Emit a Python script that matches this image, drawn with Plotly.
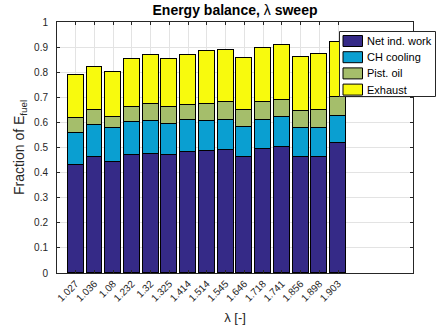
import plotly.graph_objects as go

lambda_labels = ["1.027", "1.036", "1.08", "1.232", "1.32", "1.325", "1.414", "1.514",
                 "1.545", "1.646", "1.718", "1.741", "1.856", "1.898", "1.903"]
positions = list(range(1, len(lambda_labels) + 1))

net_ind_work = [0.429, 0.464, 0.441, 0.469, 0.476, 0.469, 0.484, 0.485, 0.492, 0.464, 0.494, 0.504, 0.464, 0.464, 0.516]
ch_cooling = [0.128, 0.126, 0.135, 0.131, 0.128, 0.124, 0.124, 0.121, 0.118, 0.116, 0.116, 0.116, 0.112, 0.112, 0.110]
pist_oil = [0.060, 0.060, 0.046, 0.062, 0.068, 0.067, 0.062, 0.068, 0.072, 0.068, 0.072, 0.068, 0.069, 0.074, 0.074]
exhaust = [0.171, 0.171, 0.180, 0.191, 0.197, 0.194, 0.200, 0.210, 0.206, 0.209, 0.214, 0.220, 0.217, 0.224, 0.220]

series_names = ["Net ind. work", "CH cooling", "Pist. oil", "Exhaust"]
series_values = [net_ind_work, ch_cooling, pist_oil, exhaust]
series_colors = ["#352a87", "#0a9fd1", "#a5be6b", "#f8fa0d"]

y_ticks = [0, 0.1, 0.2, 0.3, 0.4, 0.5, 0.6, 0.7, 0.8, 0.9, 1]
y_ticktext = ["0", "0.1", "0.2", "0.3", "0.4", "0.5", "0.6", "0.7", "0.8", "0.9", "1"]

W, H = 436, 329
ML, MR, MT, MB = 57, 23, 22, 56
PW, PH = W - ML - MR, H - MT - MB

fig = go.Figure()
for name, vals, color in zip(series_names, series_values, series_colors):
    fig.add_trace(go.Bar(
        x=positions, y=vals, name=name, width=0.85, showlegend=False,
        marker=dict(color=color, line=dict(color="black", width=1)),
    ))

font_family = "Liberation Sans, Arial, sans-serif"
axis_common = dict(
    showline=True, linecolor="#262626", linewidth=1, mirror="ticks",
    ticks="inside", ticklen=3, tickcolor="#262626",
    showgrid=True, gridcolor="#e3e3e3", gridwidth=1,
    zeroline=False, automargin=False,
    tickfont=dict(size=10, color="#262626", family=font_family),
)

# Legend drawn in pixel-based paper coordinates (box + swatches + labels)
def px_x(px):
    return (px - ML) / PW

def px_y(py):
    return (H - MB - py) / PH

shapes = []
annotations = []
box_l, box_r, box_t, box_b = 339.5, 435.5, 31.5, 96.5
shapes.append(dict(type="rect", xref="paper", yref="paper",
                   x0=px_x(box_l), x1=px_x(box_r), y0=px_y(box_b), y1=px_y(box_t),
                   fillcolor="white", line=dict(color="#262626", width=1), layer="above"))
for i, (name, color) in enumerate(zip(series_names, series_colors)):
    cy = 41 + i * 16.2
    shapes.append(dict(type="rect", xref="paper", yref="paper",
                       x0=px_x(343), x1=px_x(362.5), y0=px_y(cy + 5.5), y1=px_y(cy - 5.5),
                       fillcolor=color, line=dict(color="black", width=1), layer="above"))
    annotations.append(dict(text=name, xref="paper", yref="paper", x=px_x(365), y=px_y(cy),
                            xanchor="left", yanchor="middle", showarrow=False,
                            font=dict(size=11, color="black", family=font_family)))

fig.update_layout(
    barmode="stack",
    width=W, height=H,
    margin=dict(l=ML, r=MR, t=MT, b=MB),
    paper_bgcolor="white", plot_bgcolor="white",
    font=dict(family=font_family, color="#262626"),
    title=dict(text="<b>Energy balance, </b>λ<b> sweep</b>", x=0.5, xanchor="center",
               xref="paper", y=0.985, yanchor="top", font=dict(size=14, color="black")),
    xaxis=dict(
        range=[0, 19], tickmode="array", tickvals=positions, ticktext=lambda_labels,
        tickangle=-45,
        title=dict(text="λ [-]", font=dict(size=13, color="#262626"), standoff=10),
        **axis_common,
    ),
    yaxis=dict(
        range=[0, 1], tickmode="array", tickvals=y_ticks, ticktext=y_ticktext,
        ticklabelstandoff=6,
        title=dict(text="Fraction of E<sub>fuel</sub>", font=dict(size=14, color="#262626"), standoff=6),
        **axis_common,
    ),
    shapes=shapes,
    annotations=annotations,
    showlegend=False,
    bargap=0,
)

fig.write_html(
    "out.html",
    config={"displayModeBar": False},
    post_script="document.body.style.margin='0';document.body.style.overflow='hidden';",
)
